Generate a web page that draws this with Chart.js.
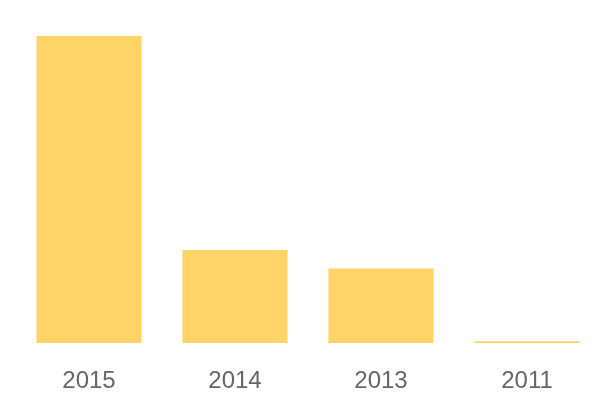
<!DOCTYPE html>
<html>
<head>
<meta charset="utf-8">
<script src="https://cdn.jsdelivr.net/npm/chart.js@4"></script>
<style>
html,body{margin:0;padding:0;background:#fff;}
#wrap{width:600px;height:400px;position:relative;}
</style>
</head>
<body>
<div id="wrap"><canvas id="c"></canvas></div>
<script>
const categories = ["2015", "2014", "2013", "2011"];
const values = [165, 50, 40, 1];

new Chart(document.getElementById('c'), {
  type: 'bar',
  data: {
    labels: categories,
    datasets: [{
      data: values,
      backgroundColor: '#FFD466',
      borderWidth: 0
    }]
  },
  options: {
    responsive: true,
    maintainAspectRatio: false,
    animation: false,
    layout: { padding: { top: 36, left: 16, right: 0, bottom: 0 } },
    plugins: { legend: { display: false }, tooltip: { enabled: false } },
    scales: {
      x: {
        grid: { display: false, drawTicks: false },
        border: { display: false },
        ticks: { color: '#666666', font: { family: 'Liberation Sans', size: 24 }, padding: 24 },
        afterFit: (scale) => { scale.height = 57; }
      },
      y: { display: false, min: 0, max: 165 }
    }
  }
});
</script>
</body>
</html>
